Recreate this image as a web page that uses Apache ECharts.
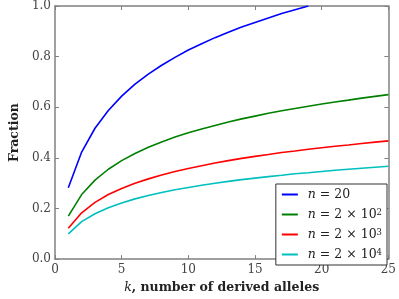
<!DOCTYPE html>
<html><head><meta charset="utf-8">
<script src="https://cdn.jsdelivr.net/npm/echarts@6/dist/echarts.min.js"></script>
<style>html,body{margin:0;padding:0;background:#fff}#c{width:399px;height:299px}</style>
</head><body><div id="c"></div>
<script>
const kValues = [1,2,3,4,5,6,7,8,9,10,11,12,13,14,15,16,17,18,19,20,21,22,23,24,25];
const seriesNames = ['n20','n200','n2000','n20000'];
const n20 = [0.282,0.423,0.517,0.587,0.644,0.691,0.731,0.766,0.797,0.826,0.851,0.875,0.896,0.917,0.935,0.953,0.970,0.985,1.000];
const n200 = [0.170,0.255,0.312,0.355,0.389,0.417,0.442,0.463,0.482,0.499,0.514,0.528,0.542,0.554,0.565,0.576,0.586,0.595,0.604,0.613,0.621,0.628,0.636,0.643,0.650];
const n2000 = [0.122,0.183,0.224,0.255,0.279,0.300,0.317,0.332,0.346,0.358,0.369,0.380,0.389,0.398,0.406,0.413,0.421,0.427,0.434,0.440,0.446,0.451,0.457,0.462,0.467];
const n20000 = [0.100,0.148,0.179,0.203,0.222,0.238,0.251,0.263,0.274,0.283,0.292,0.300,0.307,0.314,0.320,0.326,0.331,0.337,0.341,0.346,0.351,0.355,0.359,0.363,0.367];
const legendLabels = {n20:'{i|n} = 20', n200:'{i|n} = 2 × 10{s|2}', n2000:'{i|n} = 2 × 10{s|3}', n20000:'{i|n} = 2 × 10{s|4}'};
const xTicks = [0,5,10,15,20,25];
const yTicks = [0,0.2,0.4,0.6,0.8,1.0];
const colors = ['#0000ff','#008000','#ff0000','#00bfbf'];

const font = 'DejaVu Serif';
const chart = echarts.init(document.getElementById('c'), null, {renderer:'canvas'});
const allData = [n20,n200,n2000,n20000];
const frameColor = '#808080';
function xAx(pos, show){
  return {type:'value', min:0, max:25, interval:5, position:pos,
    axisLine:{show:true, onZero:false, lineStyle:{color:frameColor,width:1.5}},
    axisTick:{show:true, inside:true, length:4, lineStyle:{color:frameColor}},
    axisLabel:{show:show, color:'#444', fontFamily:font, fontSize:12, margin:5},
    splitLine:{show:false},
    name: show ? '{i|k}, number of derived alleles' : '',
    nameLocation:'middle', nameGap:17,
    nameTextStyle:{color:'#222', fontFamily:font, fontSize:12.5, fontWeight:'bold',
      rich:{i:{fontStyle:'italic', fontFamily:font, fontSize:12.5, fontWeight:'normal', color:'#222'}}}
  };
}
function yAx(pos, show){
  return {type:'value', min:0, max:1, interval:0.2, position:pos,
    axisLine:{show:true, onZero:false, lineStyle:{color:frameColor,width:1.5}},
    axisTick:{show:true, inside:true, length:4, lineStyle:{color:frameColor}},
    axisLabel:{show:show, color:'#444', fontFamily:font, fontSize:12, margin:4, formatter:v=>v.toFixed(1)},
    splitLine:{show:false},
    name: show ? 'Fraction' : '',
    nameLocation:'middle', nameGap:30,
    nameTextStyle:{color:'#222', fontFamily:font, fontSize:12.5, fontWeight:'bold'}
  };
}
chart.setOption({
  animation:false,
  grid:{left:40, right:9, top:6, bottom:31, containLabel:false},
  xAxis:[xAx('bottom',true), xAx('top',false)],
  yAxis:[yAx('left',true), yAx('right',false)],
  legend:{
    orient:'vertical', right:12, bottom:34,
    data:seriesNames,
    formatter:name=>legendLabels[name],
    icon:'rect', itemWidth:16, itemHeight:2, itemGap:7,
    backgroundColor:'#fff', borderColor:'#333', borderWidth:1, borderRadius:0,
    padding:[4,5,4,6],
    textStyle:{fontFamily:font, fontSize:12.5, color:'#222', lineHeight:13, padding:[0,0,0,5],
      rich:{i:{fontStyle:'italic', fontFamily:font, fontSize:12.5, color:'#222'},
            s:{fontSize:8.5, fontFamily:font, color:'#222', verticalAlign:'top', lineHeight:8, padding:[0,0,4,0]}}}
  },
  series: seriesNames.map((nm,i)=>({
    name:nm, type:'line', xAxisIndex:0, yAxisIndex:0,
    data: allData[i].map((v,j)=>[kValues[j], v]),
    showSymbol:false, symbol:'none',
    lineStyle:{color:colors[i], width:1.6},
    itemStyle:{color:colors[i]},
    clip:true
  }))
});
</script></body></html>
